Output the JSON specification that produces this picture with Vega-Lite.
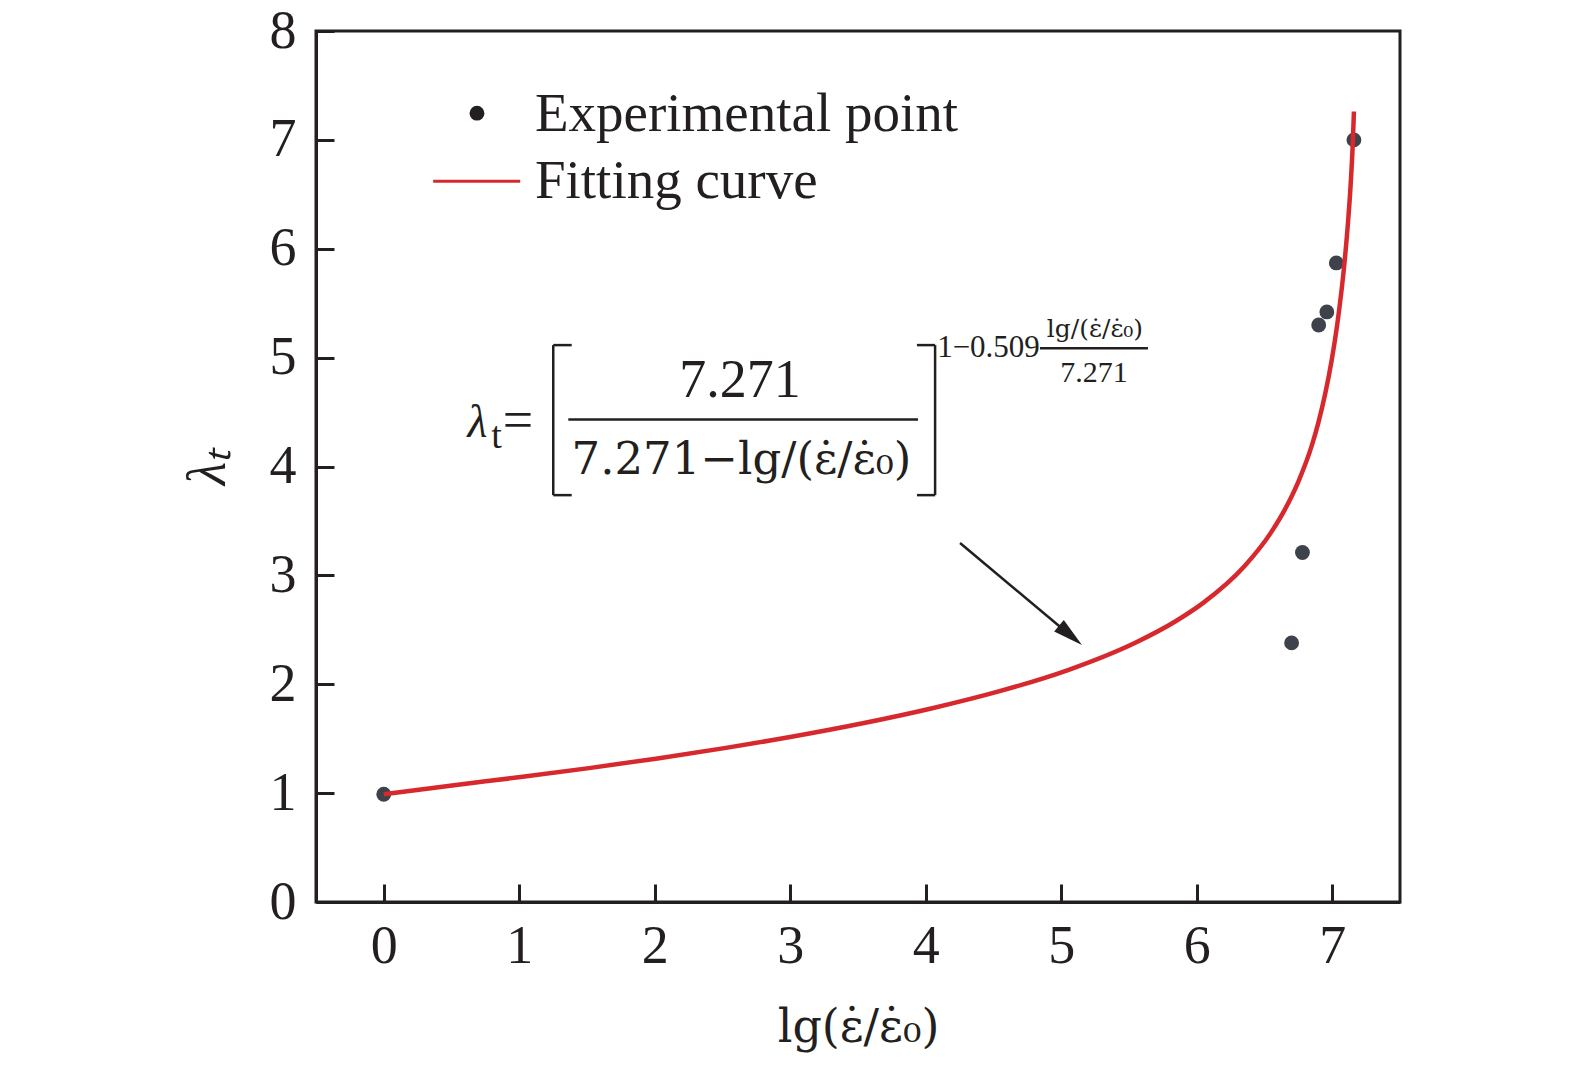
{
  "$schema": "https://vega.github.io/schema/vega-lite/v6.json",
  "width": 1084,
  "height": 871,
  "autosize": {"type": "none"},
  "padding": {"left": 316, "top": 31, "right": 175, "bottom": 175},
  "background": "white",
  "config": {
    "font": "Liberation Serif",
    "view": {"stroke": "#231f20", "strokeWidth": 3},
    "axis": {
      "grid": false,
      "domainColor": "#231f20",
      "domainWidth": 3,
      "tickColor": "#231f20",
      "tickWidth": 3,
      "tickSize": -18,
      "labelFont": "Liberation Serif",
      "labelFontSize": 54,
      "labelColor": "#231f20",
      "titleFont": "Liberation Serif",
      "titleFontSize": 54,
      "titleFontWeight": "normal",
      "titleColor": "#231f20"
    },
    "text": {"color": "#231f20", "font": "Liberation Serif"}
  },
  "layer": [
    {
      "data": {"values": [
        {"lg": 0.0, "lambda": 0.99},
        {"lg": 6.70, "lambda": 2.38},
        {"lg": 6.78, "lambda": 3.21},
        {"lg": 6.90, "lambda": 5.30},
        {"lg": 6.96, "lambda": 5.42},
        {"lg": 7.03, "lambda": 5.87},
        {"lg": 7.16, "lambda": 7.00}
      ]},
      "mark": {"type": "point", "filled": true, "size": 220, "color": "#3e424b", "opacity": 1},
      "encoding": {
        "x": {
          "field": "lg", "type": "quantitative",
          "scale": {"domain": [-0.5, 7.5], "nice": false, "zero": false},
          "axis": {"values": [0, 1, 2, 3, 4, 5, 6, 7], "format": "d", "labelPadding": 35, "titlePadding": 32, "titleFont": "DejaVu Serif", "titleFontSize": 46},
          "title": "lg(ε̇/ε̇₀)"
        },
        "y": {
          "field": "lambda", "type": "quantitative",
          "scale": {"domain": [0, 8], "nice": false},
          "axis": {"values": [0, 1, 2, 3, 4, 5, 6, 7, 8], "format": "d", "labelPadding": 38, "titlePadding": 34, "titleFontStyle": "italic"},
          "title": "λₜ"
        }
      }
    },
    {
      "data": {"values": [
        {"lg": 0.0, "lambda": 0.99},
        {"lg": 0.505, "lambda": 1.071},
        {"lg": 1.01, "lambda": 1.1475},
        {"lg": 1.515, "lambda": 1.2297},
        {"lg": 2.02, "lambda": 1.3187},
        {"lg": 2.525, "lambda": 1.4157},
        {"lg": 3.03, "lambda": 1.5224},
        {"lg": 3.535, "lambda": 1.6416},
        {"lg": 4.04, "lambda": 1.7774},
        {"lg": 4.545, "lambda": 1.9364},
        {"lg": 5.05, "lambda": 2.1305},
        {"lg": 5.55, "lambda": 2.3836},
        {"lg": 5.85, "lambda": 2.5836},
        {"lg": 6.05, "lambda": 2.7499},
        {"lg": 6.35, "lambda": 3.0815},
        {"lg": 6.55, "lambda": 3.3973},
        {"lg": 6.65, "lambda": 3.6039},
        {"lg": 6.75, "lambda": 3.8613},
        {"lg": 6.85, "lambda": 4.1958},
        {"lg": 6.898, "lambda": 4.4055},
        {"lg": 6.946, "lambda": 4.6569},
        {"lg": 6.994, "lambda": 4.9643},
        {"lg": 7.042, "lambda": 5.3527},
        {"lg": 7.09, "lambda": 5.8677},
        {"lg": 7.118, "lambda": 6.2695},
        {"lg": 7.136, "lambda": 6.5944},
        {"lg": 7.152, "lambda": 6.982},
        {"lg": 7.16, "lambda": 7.26}
      ]},
      "mark": {"type": "line", "color": "#d7282d", "strokeWidth": 4.5, "interpolate": "monotone"},
      "encoding": {
        "x": {"field": "lg", "type": "quantitative"},
        "y": {"field": "lambda", "type": "quantitative"}
      }
    },
    {
      "data": {"values": [
        {"x1": 1.251, "x2": 1.251, "y1": 3.737, "y2": 5.115},
        {"x1": 1.251, "x2": 1.387, "y1": 5.115, "y2": 5.115},
        {"x1": 1.251, "x2": 1.387, "y1": 3.737, "y2": 3.737},
        {"x1": 4.069, "x2": 4.069, "y1": 3.737, "y2": 5.115},
        {"x1": 3.935, "x2": 4.069, "y1": 5.115, "y2": 5.115},
        {"x1": 3.935, "x2": 4.069, "y1": 3.737, "y2": 3.737},
        {"x1": 1.362, "x2": 3.943, "y1": 4.432, "y2": 4.432},
        {"x1": 4.843, "x2": 5.640, "y1": 5.087, "y2": 5.087},
        {"x1": 4.253, "x2": 5.068, "y1": 3.297, "y2": 2.448}
      ]},
      "mark": {"type": "rule", "color": "#231f20", "strokeWidth": 2.5},
      "encoding": {
        "x": {"field": "x1", "type": "quantitative"},
        "x2": {"field": "x2"},
        "y": {"field": "y1", "type": "quantitative"},
        "y2": {"field": "y2"}
      }
    },
    {
      "data": {"values": [{"x": 5.068, "y": 2.448}]},
      "mark": {"type": "point", "filled": true, "shape": "M0,-1L0.5,1L-0.5,1Z", "size": 900, "angle": 130, "color": "#231f20", "opacity": 1},
      "encoding": {
        "x": {"field": "x", "type": "quantitative"},
        "y": {"field": "y", "type": "quantitative"}
      }
    },
    {
      "data": {"values": [{"x": 0.692, "y": 4.27, "t": "λ"}]},
      "mark": {"type": "text", "fontSize": 46, "fontStyle": "italic", "align": "center", "baseline": "alphabetic"},
      "encoding": {
        "x": {"field": "x", "type": "quantitative"},
        "y": {"field": "y", "type": "quantitative"},
        "text": {"field": "t"}
      }
    },
    {
      "data": {"values": [{"x": 0.832, "y": 4.169, "t": "t"}]},
      "mark": {"type": "text", "fontSize": 38, "align": "center", "baseline": "alphabetic"},
      "encoding": {
        "x": {"field": "x", "type": "quantitative"},
        "y": {"field": "y", "type": "quantitative"},
        "text": {"field": "t"}
      }
    },
    {
      "data": {"values": [
        {"x": 0.99, "y": 4.265, "t": "="},
        {"x": 2.629, "y": 4.637, "t": "7.271"}
      ]},
      "mark": {"type": "text", "fontSize": 54, "align": "center", "baseline": "alphabetic"},
      "encoding": {
        "x": {"field": "x", "type": "quantitative"},
        "y": {"field": "y", "type": "quantitative"},
        "text": {"field": "t"}
      }
    },
    {
      "data": {"values": [
        {"x": 2.64, "y": 3.93, "t": "7.271−lg/(ε̇/ε̇₀)"}
      ]},
      "mark": {"type": "text", "font": "DejaVu Serif", "fontSize": 45, "align": "center", "baseline": "alphabetic"},
      "encoding": {
        "x": {"field": "x", "type": "quantitative"},
        "y": {"field": "y", "type": "quantitative"},
        "text": {"field": "t"}
      }
    },
    {
      "data": {"values": [
        {"x": 4.084, "y": 5.005, "t": "1−0.509"}
      ]},
      "mark": {"type": "text", "fontSize": 31, "align": "left", "baseline": "alphabetic"},
      "encoding": {
        "x": {"field": "x", "type": "quantitative"},
        "y": {"field": "y", "type": "quantitative"},
        "text": {"field": "t"}
      }
    },
    {
      "data": {"values": [
        {"x": 5.249, "y": 5.188, "t": "lg/(ε̇/ε̇₀)"}
      ]},
      "mark": {"type": "text", "font": "DejaVu Serif", "fontSize": 25, "align": "center", "baseline": "alphabetic"},
      "encoding": {
        "x": {"field": "x", "type": "quantitative"},
        "y": {"field": "y", "type": "quantitative"},
        "text": {"field": "t"}
      }
    },
    {
      "data": {"values": [
        {"x": 5.242, "y": 4.775, "t": "7.271"}
      ]},
      "mark": {"type": "text", "fontSize": 30, "align": "center", "baseline": "alphabetic"},
      "encoding": {
        "x": {"field": "x", "type": "quantitative"},
        "y": {"field": "y", "type": "quantitative"},
        "text": {"field": "t"}
      }
    },
    {
      "data": {"values": [{"x": 0.688, "y": 7.245}]},
      "mark": {"type": "point", "filled": true, "size": 220, "color": "#231f20", "opacity": 1},
      "encoding": {
        "x": {"field": "x", "type": "quantitative"},
        "y": {"field": "y", "type": "quantitative"}
      }
    },
    {
      "data": {"values": [{"x1": 0.365, "x2": 1.007, "y": 6.621}]},
      "mark": {"type": "rule", "color": "#d7282d", "strokeWidth": 3},
      "encoding": {
        "x": {"field": "x1", "type": "quantitative"},
        "x2": {"field": "x2"},
        "y": {"field": "y", "type": "quantitative"}
      }
    },
    {
      "data": {"values": [
        {"x": 1.116, "y": 7.080, "t": "Experimental point"},
        {"x": 1.116, "y": 6.465, "t": "Fitting curve"}
      ]},
      "mark": {"type": "text", "fontSize": 55, "align": "left", "baseline": "alphabetic"},
      "encoding": {
        "x": {"field": "x", "type": "quantitative"},
        "y": {"field": "y", "type": "quantitative"},
        "text": {"field": "t"}
      }
    }
  ]
}
